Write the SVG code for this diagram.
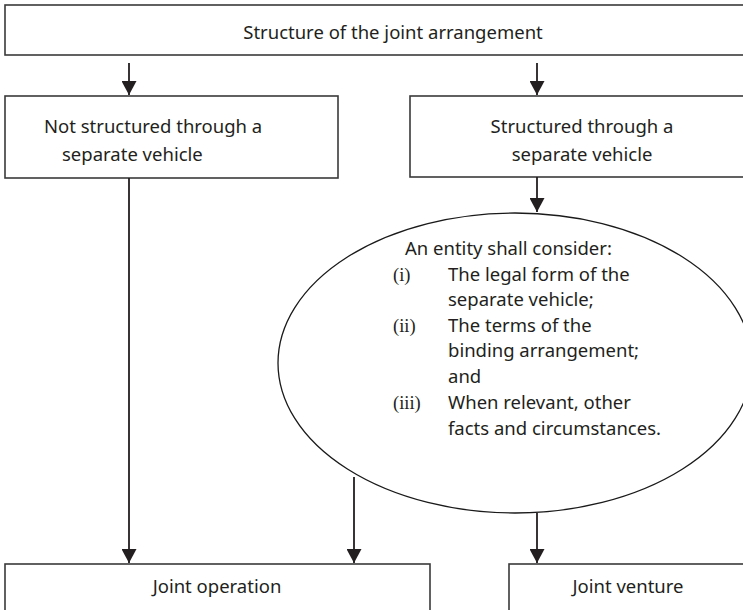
<svg xmlns="http://www.w3.org/2000/svg" width="743" height="610" viewBox="0 0 743 610">
<style>
.box{fill:#fff;stroke:#3a3a3a;stroke-width:1.6}
.ell{fill:#fff;stroke:#1a1a1a;stroke-width:1.3}
.t{font-family:"Noto Sans","Open Sans","Liberation Sans",sans-serif;font-size:18.5px;fill:#231f20}
.r{font-family:"Liberation Serif","DejaVu Serif",serif;font-size:18.5px;fill:#231f20}
.c{text-anchor:middle}
.conn{stroke:#231f20;stroke-width:1.8;fill:none;marker-end:url(#ah)}
</style>
<defs>
<marker id="ah" markerUnits="userSpaceOnUse" viewBox="0 0 14 15" refX="14" refY="7.5" markerWidth="14" markerHeight="15" orient="auto">
<path d="M0,0 L14,7.5 L0,15 z" fill="#231f20"/>
</marker>
</defs>
<g id="top">
<rect class="box" x="5" y="5" width="745" height="50"/>
<text class="t c" x="393" y="39">Structure of the joint arrangement</text>
</g>
<g id="notsep">
<rect class="box" x="5" y="96" width="333" height="82"/>
<text class="t" x="44" y="133">Not structured through a</text>
<text class="t" x="62" y="161">separate vehicle</text>
</g>
<g id="sep">
<rect class="box" x="410" y="96" width="340" height="81"/>
<text class="t c" x="582" y="133">Structured through a</text>
<text class="t c" x="582" y="161">separate vehicle</text>
</g>
<g id="consider">
<ellipse class="ell" cx="515" cy="363" rx="237" ry="150"/>
<text class="t" x="405" y="255">An entity shall consider:</text>
<text class="r" x="393" y="281">(i)</text>
<text class="t" x="448" y="281">The legal form of the</text>
<text class="t" x="448" y="306">separate vehicle;</text>
<text class="r" x="393" y="332">(ii)</text>
<text class="t" x="448" y="332">The terms of the</text>
<text class="t" x="448" y="357">binding arrangement;</text>
<text class="t" x="448" y="383">and</text>
<text class="r" x="393" y="409">(iii)</text>
<text class="t" x="448" y="409">When relevant, other</text>
<text class="t" x="448" y="435">facts and circumstances.</text>
</g>
<g id="jo">
<rect class="box" x="5" y="564" width="425" height="60"/>
<text class="t c" x="217" y="593">Joint operation</text>
</g>
<g id="jv">
<rect class="box" x="509" y="564" width="250" height="60"/>
<text class="t c" x="628" y="593">Joint venture</text>
</g>
<g id="connectors">
<path class="conn" d="M129,63 L129,95"/>
<path class="conn" d="M537,63 L537,95"/>
<path class="conn" d="M537,177 L537,212"/>
<path class="conn" d="M129,178 L129,563"/>
<path class="conn" d="M354,477 L354,563"/>
<path class="conn" d="M537,513 L537,563"/>
</g>
</svg>
